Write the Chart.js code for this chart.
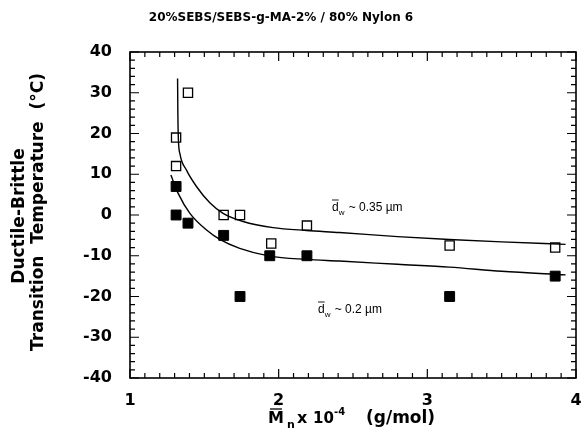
<!DOCTYPE html>
<html>
<head>
<meta charset="utf-8">
<script src="https://cdn.jsdelivr.net/npm/chart.js@4.4.0/dist/chart.umd.min.js"></script>
<style>
  body { margin: 0; background: #fff; }
  canvas { display: block; }
</style>
</head>
<body>
<canvas id="grafico" width="584" height="448"></canvas>
<script>
// valores
const tituloGrafico = "20%SEBS/SEBS-g-MA-2% / 80% Nylon 6";
const ticksX = [1, 2, 3, 4];
const ticksY = [-40, -30, -20, -10, 0, 10, 20, 30, 40];

// d ~ 0.35 um (quadrados abertos)
const mnAberto = [1.31, 1.31, 1.39, 1.63, 1.74, 1.95, 2.19, 3.15, 3.86];
const tdbAberto = [19, 12, 30, 0, 0, -7, -2.6, -7.5, -8];

// d ~ 0.2 um (quadrados cheios)
const mnCheio = [1.31, 1.31, 1.39, 1.63, 1.74, 1.94, 2.19, 3.15, 3.86];
const tdbCheio = [7, 0, -2, -5, -20, -10, -10, -20, -15];

// curvas ajustadas
const curvaAbertoX = [1.320, 1.322, 1.325, 1.336, 1.38, 1.447, 1.537, 1.626, 1.761, 1.962, 2.186, 2.409, 2.8, 3.148, 3.5, 3.93];
const curvaAbertoY = [33.5, 25, 19, 15, 11, 7, 3, 0.4, -1.6, -3.1, -3.8, -4.3, -5.3, -6.0, -6.6, -7.2];
const curvaCheioX = [1.275, 1.324, 1.403, 1.515, 1.604, 1.738, 1.94, 2.186, 2.409, 2.8, 3.148, 3.5, 3.93];
const curvaCheioY = [9.8, 5.3, 0.4, -3.7, -6.0, -8.2, -10.1, -10.9, -11.3, -12.1, -12.8, -13.8, -14.7];

const pares = (xs, ys) => xs.map((x, i) => ({ x: x, y: ys[i] }));

// moldura com ticks para dentro nos quatro lados
const moldura = {
  id: "moldura",
  afterDraw(chart) {
    const ctx = chart.ctx;
    const a = chart.chartArea;
    const sx = chart.scales.x, sy = chart.scales.y;
    ctx.save();
    ctx.strokeStyle = "#000";
    ctx.lineWidth = 1.6;
    ctx.strokeRect(a.left, a.top, a.right - a.left, a.bottom - a.top);
    ctx.lineWidth = 1.2;
    ctx.beginPath();
    for (let i = 10; i <= 40; i++) {
      const px = sx.getPixelForValue(i / 10);
      const len = i % 10 === 0 ? 9 : 5;
      ctx.moveTo(px, a.bottom); ctx.lineTo(px, a.bottom - len);
      ctx.moveTo(px, a.top); ctx.lineTo(px, a.top + len);
    }
    for (let v = -40; v <= 40; v += 2) {
      const py = sy.getPixelForValue(v);
      const len = v % 10 === 0 ? 9 : 5;
      ctx.moveTo(a.left, py); ctx.lineTo(a.left + len, py);
      ctx.moveTo(a.right, py); ctx.lineTo(a.right - len, py);
    }
    ctx.stroke();

    // título
    ctx.fillStyle = "#000";
    ctx.textAlign = "center";
    ctx.textBaseline = "alphabetic";
    ctx.font = "bold 12px 'DejaVu Sans'";
    ctx.fillText(tituloGrafico, 281, 21);

    // título do eixo y (duas linhas)
    ctx.save();
    ctx.font = "bold 17px 'DejaVu Sans'";
    ctx.translate(24, 216);
    ctx.rotate(-Math.PI / 2);
    ctx.fillText("Ductile-Brittle", 0, 0);
    ctx.restore();
    ctx.save();
    ctx.font = "bold 17px 'DejaVu Sans'";
    ctx.translate(43, 212);
    ctx.rotate(-Math.PI / 2);
    ctx.fillText("Transition  Temperature  (\u00B0C)", 0, 0);
    ctx.restore();

    // título do eixo x: Mn x 10^-4 (g/mol)
    ctx.textAlign = "left";
    const base = 423;
    ctx.font = "bold 16px 'DejaVu Sans'";
    ctx.fillText("M", 268, base);
    const wM = ctx.measureText("M").width;
    ctx.lineWidth = 1.3;
    ctx.beginPath();
    ctx.moveTo(270, base - 14); ctx.lineTo(268 + wM - 2, base - 14);
    ctx.stroke();
    ctx.font = "bold 11px 'DejaVu Sans'";
    ctx.fillText("~", 268 + wM / 2 - 3, base - 15);
    ctx.fillText("n", 287, base + 5);
    ctx.font = "bold 16px 'DejaVu Sans'";
    ctx.fillText("x", 297, base);
    ctx.font = "bold 15px 'DejaVu Sans'";
    ctx.fillText("10", 313, base);
    ctx.font = "bold 10px 'DejaVu Sans'";
    ctx.fillText("-4", 334, base - 8);
    ctx.font = "bold 17px 'DejaVu Sans'";
    ctx.fillText("(g/mol)", 366, base);

    // anotações d_w
    const anotar = (tx, ty, resto) => {
      ctx.font = "12px 'Liberation Sans'";
      ctx.fillText("d", tx, ty);
      const wd = ctx.measureText("d").width;
      ctx.lineWidth = 0.9;
      ctx.beginPath();
      ctx.moveTo(tx, ty - 11); ctx.lineTo(tx + wd, ty - 11);
      ctx.stroke();
      ctx.font = "8px 'Liberation Sans'";
      ctx.fillText("w", tx + wd, ty + 4);
      ctx.font = "12px 'Liberation Sans'";
      ctx.fillText(resto, tx + wd + 10, ty);
    };
    anotar(332, 211, "~ 0.35 \u00B5m");
    anotar(318, 313, "~ 0.2 \u00B5m");
    ctx.restore();
  }
};

new Chart(document.getElementById("grafico").getContext("2d"), {
  type: "scatter",
  data: {
    datasets: [
      {
        label: "curva 0.35",
        type: "line",
        data: pares(curvaAbertoX, curvaAbertoY),
        borderColor: "#000",
        borderWidth: 1.4,
        pointRadius: 0,
        cubicInterpolationMode: "monotone",
        fill: false
      },
      {
        label: "curva 0.2",
        type: "line",
        data: pares(curvaCheioX, curvaCheioY),
        borderColor: "#000",
        borderWidth: 1.4,
        pointRadius: 0,
        cubicInterpolationMode: "monotone",
        fill: false
      },
      {
        label: "d ~ 0.35 um",
        data: pares(mnAberto, tdbAberto),
        pointStyle: "rect",
        pointRadius: 6.5,
        backgroundColor: "#fff",
        borderColor: "#000",
        borderWidth: 1.3
      },
      {
        label: "d ~ 0.2 um",
        data: pares(mnCheio, tdbCheio),
        pointStyle: "rect",
        pointRadius: 7,
        backgroundColor: "#000",
        borderColor: "#000",
        borderWidth: 1
      }
    ]
  },
  options: {
    responsive: false,
    animation: false,
    layout: { padding: { top: 52, right: 7, left: 0, bottom: 0 } },
    plugins: {
      legend: { display: false },
      tooltip: { enabled: false }
    },
    scales: {
      x: {
        type: "linear",
        min: 1,
        max: 4,
        afterBuildTicks: s => { s.ticks = ticksX.map(v => ({ value: v })); },
        afterFit: s => { s.height = 70; s.paddingLeft = 0; s.paddingRight = 0; },
        grid: { display: false, drawTicks: false },
        border: { display: false },
        ticks: {
          color: "#000",
          padding: 13,
          font: { family: "'DejaVu Sans'", size: 16, weight: "bold" }
        }
      },
      y: {
        min: -40,
        max: 40,
        afterBuildTicks: s => { s.ticks = ticksY.map(v => ({ value: v })); },
        afterFit: s => { s.width = 130; s.paddingTop = 0; s.paddingBottom = 0; },
        grid: { display: false, drawTicks: false },
        border: { display: false },
        ticks: {
          color: "#000",
          padding: 18,
          font: { family: "'DejaVu Sans'", size: 16, weight: "bold" }
        }
      }
    }
  },
  plugins: [moldura]
});
</script>
</body>
</html>
